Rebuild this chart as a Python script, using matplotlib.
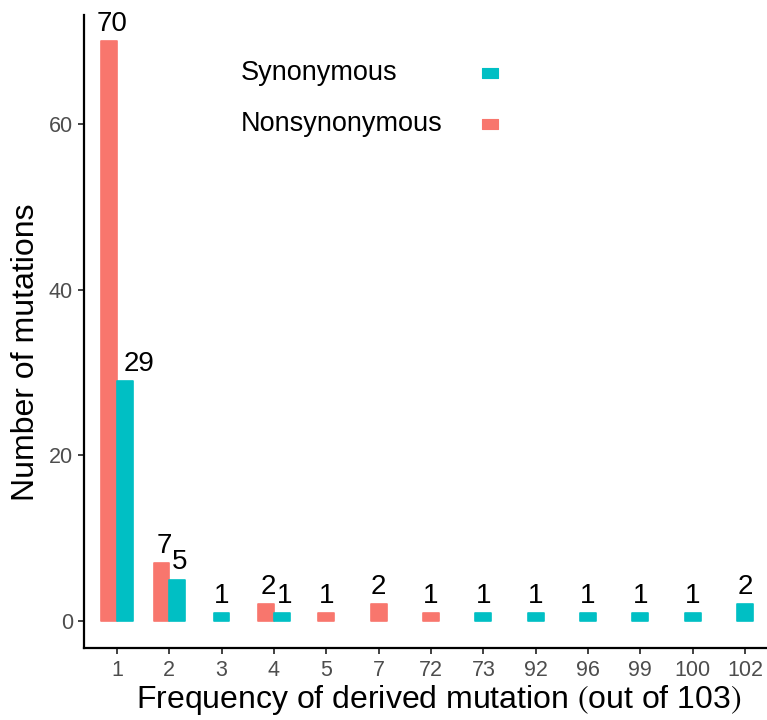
import matplotlib
matplotlib.use("Agg")
import matplotlib.pyplot as plt
from matplotlib.patches import Rectangle

plt.rcParams['font.family'] = ['Liberation Sans', 'DejaVu Sans']
plt.rcParams['mathtext.fontset'] = 'stix'

# ---- data ----
freq_labels = ['1', '2', '3', '4', '5', '7', '72', '73', '92', '96', '99', '100', '102']
nonsyn = [70, 7, None, 2, 1, 2, 1, None, None, None, None, None, None]
syn = [29, 5, 1, 1, None, None, None, 1, 1, 1, 1, 1, 2]
series_names = ['Synonymous', 'Nonsynonymous']
colors = {'Synonymous': '#00BFC4', 'Nonsynonymous': '#F8766D'}

W, H = 767, 720
fig = plt.figure(figsize=(W / 100, H / 100), dpi=100)
ax = fig.add_axes([84 / W, 72 / H, 1 - 84 / W, (648 - 15) / H])
AW, AH = W - 84, 648 - 15

bw = 0.3
label_nudge = {(0, 'Synonymous'): 0.22}
for i, lab in enumerate(freq_labels):
    n, s = nonsyn[i], syn[i]
    both = n is not None and s is not None
    for name, v, off in (('Nonsynonymous', n, -bw / 2), ('Synonymous', s, bw / 2)):
        if v is None:
            continue
        x = i + off if both else i
        ax.bar(x, v, width=bw, color=colors[name], edgecolor=colors[name],
               linewidth=1.2, joinstyle='round', zorder=2)
        lx = x + (0.05 if both else 0) + label_nudge.get((i, name), 0)
        ax.annotate(str(v), (lx, v), xytext=(0, 3), textcoords='offset points',
                    ha='center', va='bottom', fontsize=20, color='black')

ax.set_xlim(-0.63, 12.42)
ax.set_ylim(-3.26, 73.14)
ax.set_xticks(range(len(freq_labels)))
ax.set_xticklabels(freq_labels)
ax.set_yticks([0, 20, 40, 60])
for sp in ('top', 'right'):
    ax.spines[sp].set_visible(False)
for sp in ('left', 'bottom'):
    ax.spines[sp].set_linewidth(1.6)
    ax.spines[sp].set_color('black')
ax.tick_params(axis='both', length=4, width=1.3, color='#333333',
               labelsize=15.5, labelcolor='#4D4D4D', pad=4)
ax.tick_params(axis='x', pad=5)

ax.set_ylabel('Number of mutations', fontsize=23)
ax.yaxis.label.set_ha('center')
ax.yaxis.label.set_va('center')
ax.yaxis.set_label_coords(-(84 - 26) / AW, (648 - 352) / AH)
ax.set_xlabel(r'Frequency of derived mutation $($out of 103$)$', fontsize=23)
ax.xaxis.label.set_ha('center')
ax.xaxis.label.set_va('center')
ax.xaxis.set_label_coords((439 - 84) / AW, -(700 - 648) / AH)

# legend (drawn manually: labels left-aligned, keys on the right)
leg_y = [73, 124]
for name, yy in zip(series_names, leg_y):
    fig.text(241 / W, 1 - yy / H, name, fontsize=19.5, ha='left', va='center')
    fig.patches.append(Rectangle((482 / W, 1 - (yy + 5) / H), 16 / W, 10 / H,
                                 transform=fig.transFigure, facecolor=colors[name],
                                 edgecolor=colors[name], linewidth=0.8,
                                 joinstyle='round'))

fig.savefig('out.png', dpi=100)
